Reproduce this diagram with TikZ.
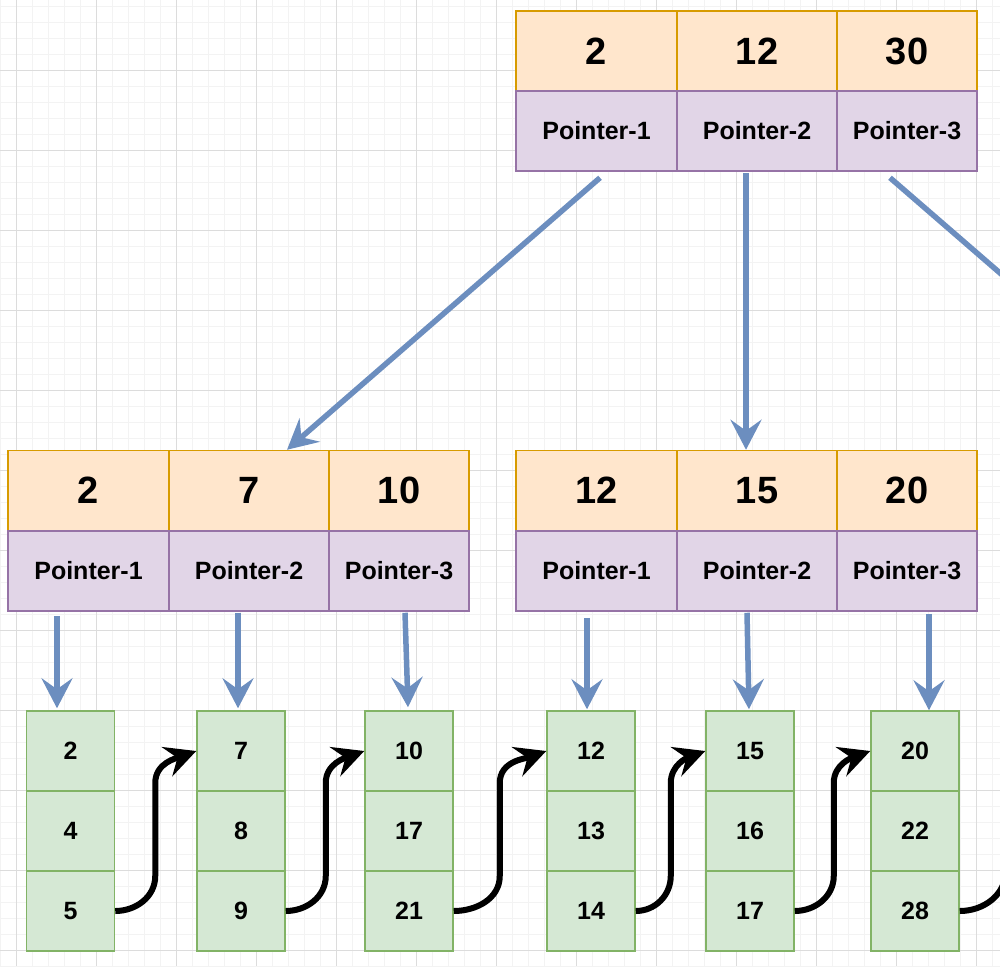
\documentclass[tikz,border=0pt]{standalone}
\usepackage{fontspec}
\setmainfont{Liberation Sans}
\usetikzlibrary{arrows.meta}

\definecolor{keyfill}{HTML}{FFE6CC}
\definecolor{keyline}{HTML}{D79B00}
\definecolor{ptrfill}{HTML}{E1D5E7}
\definecolor{ptrline}{HTML}{9673A6}
\definecolor{leaffill}{HTML}{D5E8D4}
\definecolor{leafline}{HTML}{82B366}
\definecolor{linkblue}{HTML}{6C8EBF}
\definecolor{gridminor}{HTML}{F3F3F3}
\definecolor{gridmajor}{HTML}{DCDCDC}

\tikzset{
  cell/.style={rectangle, inner sep=0pt, line width=1.5pt, minimum height=80pt},
  keycell/.style={cell, draw=keyline, fill=keyfill, minimum width=#1pt,
    font=\bfseries\fontsize{38}{40}\selectfont},
  ptrcell/.style={cell, draw=ptrline, fill=ptrfill, minimum width=#1pt,
    font=\bfseries\fontsize{25}{28}\selectfont},
  leafcell/.style={cell, draw=leafline, fill=leaffill, minimum width=88pt,
    font=\bfseries\fontsize{25}{28}\selectfont},
  ptrarrow/.style={draw=linkblue, line width=5.5pt,
    -{Stealth[length=30pt,width=31pt,inset=11pt]}},
  nextarrow/.style={draw=black, line width=6pt,
    -{Stealth[length=31pt,width=31pt,inset=11pt]}}
}

\begin{document}
\begin{tikzpicture}[x=1pt,y=-1pt]
        \useasboundingbox (0,0) rectangle (1000,966);
        \clip (0,0) rectangle (1000,966);

        \foreach \i in {0,...,62} {
            \draw[gridminor, line width=1pt] (0.3+16*\i,0) -- ++(0,966);
            \draw[gridminor, line width=1pt] (0,6.3+16*\i) -- ++(1000,0);
        }
        \foreach \i in {0,...,12} {
            \draw[gridmajor, line width=1pt] (16.3+80*\i,0) -- ++(0,966);
            \draw[gridmajor, line width=1pt] (0,70.3+80*\i) -- ++(1000,0);
        }

        \node[keycell=161] (rk1) at (596.5, 51) {2};
        \node[keycell=160] (rk2) at (757, 51) {12};
        \node[keycell=140] (rk3) at (907, 51) {30};
        \node[ptrcell=161] (rp1) at (596.5, 131) {Pointer-1};
        \node[ptrcell=160] (rp2) at (757, 131) {Pointer-2};
        \node[ptrcell=140] (rp3) at (907, 131) {Pointer-3};

        \node[keycell=161] (ak1) at (88.5, 490.5) {2};
        \node[keycell=160] (ak2) at (249, 490.5) {7};
        \node[keycell=140] (ak3) at (399, 490.5) {10};
        \node[ptrcell=161] (ap1) at (88.5, 571) {Pointer-1};
        \node[ptrcell=160] (ap2) at (249, 571) {Pointer-2};
        \node[ptrcell=140] (ap3) at (399, 571) {Pointer-3};

        \node[keycell=161] (bk1) at (596.5, 490.5) {12};
        \node[keycell=160] (bk2) at (757, 490.5) {15};
        \node[keycell=140] (bk3) at (907, 490.5) {20};
        \node[ptrcell=161] (bp1) at (596.5, 571) {Pointer-1};
        \node[ptrcell=160] (bp2) at (757, 571) {Pointer-2};
        \node[ptrcell=140] (bp3) at (907, 571) {Pointer-3};

        \foreach \n/\x/\a/\b/\c in {1/70.5/2/4/5, 2/241/7/8/9, 3/409/10/17/21,
            4/591/12/13/14, 5/750/15/16/17, 6/915/20/22/28} {
            \node[leafcell] (l\n-a) at (\x, 751) {\a};
            \node[leafcell] (l\n-b) at (\x, 831) {\b};
            \node[leafcell] (l\n-c) at (\x, 911) {\c};
        }

        \coordinate (rootnext) at (1060, 325);
        \coordinate (leafnext) at (1050, 751);

        \foreach \from/\fx/\fy/\to/\tx/\ty in {rp1/3.5/-6/ak2/38/0, rp2/-11/-1/bk2/-11/0,
            ap1/-31.5/-4/l1-a/-13.5/2, ap2/-11/-1/l2-a/-3/2, ap3/6/-1/l3-a/-1/3,
            bp1/-9.5/-6/l4-a/-4/1, bp2/-10/-1/l5-a/-1/1, bp3/22/-2/l6-a/14/0}
            \draw[ptrarrow] ([xshift=\fx pt,yshift=\fy pt]\from.south) -- ([xshift=\tx pt,yshift=\ty pt]\to.north);
        \draw[ptrarrow] ([xshift=-17pt,yshift=-6pt]rp3.south) -- (rootnext);

        \foreach \i/\j/\dx in {1/2/40, 2/3/40, 3/4/46, 4/5/35, 5/6/39}
            \draw[nextarrow] (l\i-c.east) to[out=0,in=-90] ([xshift=\dx pt,yshift=35pt]l\i-c.east)
                -- ([xshift=\dx pt,yshift=128pt]l\i-c.east) to[out=90,in=200] (l\j-a.west);
        \draw[nextarrow] (l6-c.east) to[out=0,in=-90] ([xshift=46pt,yshift=40pt]l6-c.east)
            -- ([xshift=46pt,yshift=128pt]l6-c.east) to[out=90,in=200] (leafnext);

      \end{tikzpicture}
\end{document}
